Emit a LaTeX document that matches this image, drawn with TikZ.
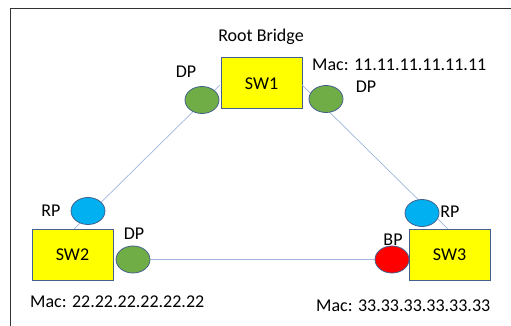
\documentclass[tikz,border=0pt]{standalone}
\usepackage{fontspec}
\setmainfont{Carlito}
\usetikzlibrary{shapes.geometric}
\definecolor{swyel}{RGB}{255,255,0}
\definecolor{swbord}{RGB}{68,96,140}
\definecolor{pgreen}{RGB}{112,173,71}
\definecolor{pblue}{RGB}{0,176,240}
\definecolor{pred}{RGB}{255,0,0}
\definecolor{linkc}{RGB}{160,180,220}
\begin{document}
\begin{tikzpicture}[x=1pt,y=-1pt,
  sw/.style={draw=swbord,line width=1pt,fill=swyel,minimum width=81pt,minimum height=51pt,inner sep=0pt,font=\fontsize{18}{20}\selectfont},
  port/.style={ellipse,draw=swbord,line width=0.8pt,minimum width=34pt,minimum height=27pt,inner sep=0pt},
  lbl/.style={inner sep=0pt,font=\fontsize{18}{20}\selectfont},
  link/.style={draw=linkc,line width=0.7pt}]
\useasboundingbox (0,0) rectangle (511,326);
\draw[line width=1pt,black!80] (10,330) -- (10,9) -- (515,9);
% switches
\node[sw] (sw1) at (261.5,83.5) {SW1};
\node[sw] (sw2) at (72.5,255) {SW2};
\node[sw] (sw3) at (449.5,255) {SW3};
% link anchor coordinates
\coordinate (a1) at (220,85);
\coordinate (a2) at (74,229);
\coordinate (b1) at (302,85);
\coordinate (b2) at (448,229);
\draw[link] (a1) -- (a2);
\draw[link] (b1) -- (b2);
% ports
\node[port,fill=pgreen] (p1) at (202,100) {};
\node[port,fill=pgreen] (p2) at (326,99) {};
\node[port,fill=pblue] (p3) at (88,211) {};
\node[port,fill=pgreen] (p4) at (133,259.5) {};
\node[port,fill=pblue] (p5) at (422,213) {};
\node[port,fill=pred] (p6) at (392,259.5) {};
\draw[link] (p4.east) -- (p6.west);
% labels
\node[lbl] (rb) at (261,37) {Root Bridge};
\node[lbl,anchor=west] (m1) at (312,65) {Mac: 11.11.11.11.11.11};
\node[lbl] (l1) at (186,72) {DP};
\node[lbl] (l2) at (366,87) {DP};
\node[lbl] (l3) at (51,211) {RP};
\node[lbl] (l4) at (134,234) {DP};
\node[lbl] (l5) at (450,212) {RP};
\node[lbl] (l6) at (393,240) {BP};
\node[lbl,anchor=west] (m2) at (30,302) {Mac: 22.22.22.22.22.22};
\node[lbl,anchor=west] (m3) at (316,306) {Mac: 33.33.33.33.33.33};
\end{tikzpicture}
\end{document}
